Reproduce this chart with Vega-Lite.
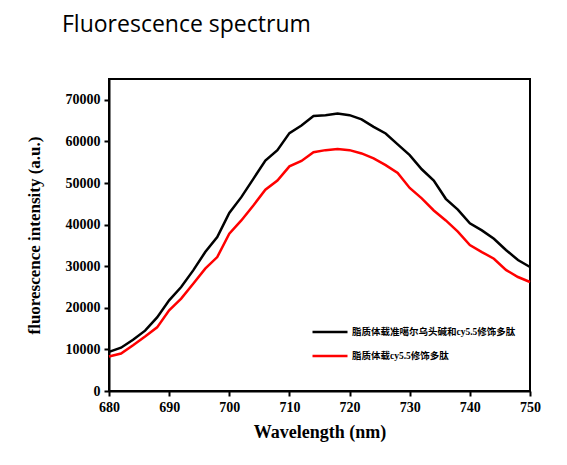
{
  "$schema": "https://vega.github.io/schema/vega-lite/v6.json",
  "autosize": "none",
  "width": 421,
  "height": 312,
  "padding": {"left": 109, "top": 79, "right": 37, "bottom": 74},
  "background": "white",
  "title": {
    "text": "Fluorescence spectrum",
    "anchor": "start",
    "frame": "group",
    "dx": -47,
    "offset": 42,
    "font": "Open Sans",
    "fontSize": 23,
    "fontWeight": "normal",
    "color": "black"
  },
  "config": {
    "view": {"stroke": "black", "strokeWidth": 2},
    "axis": {
      "domainColor": "black",
      "domainWidth": 2,
      "tickColor": "black",
      "tickWidth": 2,
      "tickSize": 5,
      "grid": false,
      "labelFont": "Liberation Serif",
      "labelFontWeight": "bold",
      "labelFontSize": 14,
      "labelColor": "black",
      "titleFont": "Liberation Serif",
      "titleFontWeight": "bold",
      "titleColor": "black"
    }
  },
  "data": {
    "values": [
      {"wavelength": 680, "series": "脂质体载准噶尔乌头碱和cy5.5修饰多肽", "intensity": 9400},
      {"wavelength": 682, "series": "脂质体载准噶尔乌头碱和cy5.5修饰多肽", "intensity": 10400},
      {"wavelength": 684, "series": "脂质体载准噶尔乌头碱和cy5.5修饰多肽", "intensity": 12300},
      {"wavelength": 686, "series": "脂质体载准噶尔乌头碱和cy5.5修饰多肽", "intensity": 14500},
      {"wavelength": 688, "series": "脂质体载准噶尔乌头碱和cy5.5修饰多肽", "intensity": 17700},
      {"wavelength": 690, "series": "脂质体载准噶尔乌头碱和cy5.5修饰多肽", "intensity": 21800},
      {"wavelength": 692, "series": "脂质体载准噶尔乌头碱和cy5.5修饰多肽", "intensity": 25000},
      {"wavelength": 694, "series": "脂质体载准噶尔乌头碱和cy5.5修饰多肽", "intensity": 29000},
      {"wavelength": 696, "series": "脂质体载准噶尔乌头碱和cy5.5修饰多肽", "intensity": 33400},
      {"wavelength": 698, "series": "脂质体载准噶尔乌头碱和cy5.5修饰多肽", "intensity": 37000},
      {"wavelength": 700, "series": "脂质体载准噶尔乌头碱和cy5.5修饰多肽", "intensity": 42800},
      {"wavelength": 702, "series": "脂质体载准噶尔乌头碱和cy5.5修饰多肽", "intensity": 46600},
      {"wavelength": 704, "series": "脂质体载准噶尔乌头碱和cy5.5修饰多肽", "intensity": 51000},
      {"wavelength": 706, "series": "脂质体载准噶尔乌头碱和cy5.5修饰多肽", "intensity": 55400},
      {"wavelength": 708, "series": "脂质体载准噶尔乌头碱和cy5.5修饰多肽", "intensity": 57900},
      {"wavelength": 710, "series": "脂质体载准噶尔乌头碱和cy5.5修饰多肽", "intensity": 62000},
      {"wavelength": 712, "series": "脂质体载准噶尔乌头碱和cy5.5修饰多肽", "intensity": 63800},
      {"wavelength": 714, "series": "脂质体载准噶尔乌头碱和cy5.5修饰多肽", "intensity": 66100},
      {"wavelength": 716, "series": "脂质体载准噶尔乌头碱和cy5.5修饰多肽", "intensity": 66300},
      {"wavelength": 718, "series": "脂质体载准噶尔乌头碱和cy5.5修饰多肽", "intensity": 66700},
      {"wavelength": 720, "series": "脂质体载准噶尔乌头碱和cy5.5修饰多肽", "intensity": 66300},
      {"wavelength": 722, "series": "脂质体载准噶尔乌头碱和cy5.5修饰多肽", "intensity": 65300},
      {"wavelength": 724, "series": "脂质体载准噶尔乌头碱和cy5.5修饰多肽", "intensity": 63500},
      {"wavelength": 726, "series": "脂质体载准噶尔乌头碱和cy5.5修饰多肽", "intensity": 61900},
      {"wavelength": 728, "series": "脂质体载准噶尔乌头碱和cy5.5修饰多肽", "intensity": 59300},
      {"wavelength": 730, "series": "脂质体载准噶尔乌头碱和cy5.5修饰多肽", "intensity": 56700},
      {"wavelength": 732, "series": "脂质体载准噶尔乌头碱和cy5.5修饰多肽", "intensity": 53300},
      {"wavelength": 734, "series": "脂质体载准噶尔乌头碱和cy5.5修饰多肽", "intensity": 50600},
      {"wavelength": 736, "series": "脂质体载准噶尔乌头碱和cy5.5修饰多肽", "intensity": 46200},
      {"wavelength": 738, "series": "脂质体载准噶尔乌头碱和cy5.5修饰多肽", "intensity": 43600},
      {"wavelength": 740, "series": "脂质体载准噶尔乌头碱和cy5.5修饰多肽", "intensity": 40300},
      {"wavelength": 742, "series": "脂质体载准噶尔乌头碱和cy5.5修饰多肽", "intensity": 38600},
      {"wavelength": 744, "series": "脂质体载准噶尔乌头碱和cy5.5修饰多肽", "intensity": 36600},
      {"wavelength": 746, "series": "脂质体载准噶尔乌头碱和cy5.5修饰多肽", "intensity": 33900},
      {"wavelength": 748, "series": "脂质体载准噶尔乌头碱和cy5.5修饰多肽", "intensity": 31500},
      {"wavelength": 750, "series": "脂质体载准噶尔乌头碱和cy5.5修饰多肽", "intensity": 29800},
      {"wavelength": 680, "series": "脂质体载cy5.5修饰多肽", "intensity": 8300},
      {"wavelength": 682, "series": "脂质体载cy5.5修饰多肽", "intensity": 9000},
      {"wavelength": 684, "series": "脂质体载cy5.5修饰多肽", "intensity": 11000},
      {"wavelength": 686, "series": "脂质体载cy5.5修饰多肽", "intensity": 13100},
      {"wavelength": 688, "series": "脂质体载cy5.5修饰多肽", "intensity": 15300},
      {"wavelength": 690, "series": "脂质体载cy5.5修饰多肽", "intensity": 19400},
      {"wavelength": 692, "series": "脂质体载cy5.5修饰多肽", "intensity": 22200},
      {"wavelength": 694, "series": "脂质体载cy5.5修饰多肽", "intensity": 25800},
      {"wavelength": 696, "series": "脂质体载cy5.5修饰多肽", "intensity": 29400},
      {"wavelength": 698, "series": "脂质体载cy5.5修饰多肽", "intensity": 32200},
      {"wavelength": 700, "series": "脂质体载cy5.5修饰多肽", "intensity": 37800},
      {"wavelength": 702, "series": "脂质体载cy5.5修饰多肽", "intensity": 41000},
      {"wavelength": 704, "series": "脂质体载cy5.5修饰多肽", "intensity": 44600},
      {"wavelength": 706, "series": "脂质体载cy5.5修饰多肽", "intensity": 48400},
      {"wavelength": 708, "series": "脂质体载cy5.5修饰多肽", "intensity": 50600},
      {"wavelength": 710, "series": "脂质体载cy5.5修饰多肽", "intensity": 54000},
      {"wavelength": 712, "series": "脂质体载cy5.5修饰多肽", "intensity": 55300},
      {"wavelength": 714, "series": "脂质体载cy5.5修饰多肽", "intensity": 57400},
      {"wavelength": 716, "series": "脂质体载cy5.5修饰多肽", "intensity": 57900},
      {"wavelength": 718, "series": "脂质体载cy5.5修饰多肽", "intensity": 58200},
      {"wavelength": 720, "series": "脂质体载cy5.5修饰多肽", "intensity": 57900},
      {"wavelength": 722, "series": "脂质体载cy5.5修饰多肽", "intensity": 57100},
      {"wavelength": 724, "series": "脂质体载cy5.5修饰多肽", "intensity": 55900},
      {"wavelength": 726, "series": "脂质体载cy5.5修饰多肽", "intensity": 54300},
      {"wavelength": 728, "series": "脂质体载cy5.5修饰多肽", "intensity": 52400},
      {"wavelength": 730, "series": "脂质体载cy5.5修饰多肽", "intensity": 48800},
      {"wavelength": 732, "series": "脂质体载cy5.5修饰多肽", "intensity": 46300},
      {"wavelength": 734, "series": "脂质体载cy5.5修饰多肽", "intensity": 43400},
      {"wavelength": 736, "series": "脂质体载cy5.5修饰多肽", "intensity": 41000},
      {"wavelength": 738, "series": "脂质体载cy5.5修饰多肽", "intensity": 38300},
      {"wavelength": 740, "series": "脂质体载cy5.5修饰多肽", "intensity": 35100},
      {"wavelength": 742, "series": "脂质体载cy5.5修饰多肽", "intensity": 33400},
      {"wavelength": 744, "series": "脂质体载cy5.5修饰多肽", "intensity": 31800},
      {"wavelength": 746, "series": "脂质体载cy5.5修饰多肽", "intensity": 29100},
      {"wavelength": 748, "series": "脂质体载cy5.5修饰多肽", "intensity": 27400},
      {"wavelength": 750, "series": "脂质体载cy5.5修饰多肽", "intensity": 26200}
    ]
  },
  "mark": {"type": "line", "strokeWidth": 2.5},
  "encoding": {
    "x": {
      "field": "wavelength",
      "type": "quantitative",
      "scale": {"domain": [680, 750], "nice": false, "zero": false},
      "axis": {
        "values": [680, 690, 700, 710, 720, 730, 740, 750],
        "title": "Wavelength (nm)",
        "titleFontSize": 18,
        "titlePadding": 9,
        "labelPadding": 4,
        "labelFlush": false
      }
    },
    "y": {
      "field": "intensity",
      "type": "quantitative",
      "scale": {"domain": [0, 75000], "nice": false},
      "axis": {
        "values": [0, 10000, 20000, 30000, 40000, 50000, 60000, 70000],
        "format": "d",
        "title": "fluorescence intensity (a.u.)",
        "titleFontSize": 17,
        "titlePadding": 22,
        "labelPadding": 4
      }
    },
    "color": {
      "field": "series",
      "type": "nominal",
      "scale": {
        "domain": ["脂质体载准噶尔乌头碱和cy5.5修饰多肽", "脂质体载cy5.5修饰多肽"],
        "range": ["black", "#ff0000"]
      },
      "legend": {
        "title": null,
        "orient": "none",
        "legendX": 202,
        "legendY": 234,
        "symbolType": "stroke",
        "symbolSize": 1225,
        "symbolStrokeWidth": 2.5,
        "labelFont": "Liberation Serif, Noto Sans CJK SC",
        "labelFontWeight": "bold",
        "labelFontSize": 9.5,
        "labelLimit": 400,
        "labelColor": "black",
        "labelOffset": 3,
        "rowPadding": -15
      }
    }
  }
}
